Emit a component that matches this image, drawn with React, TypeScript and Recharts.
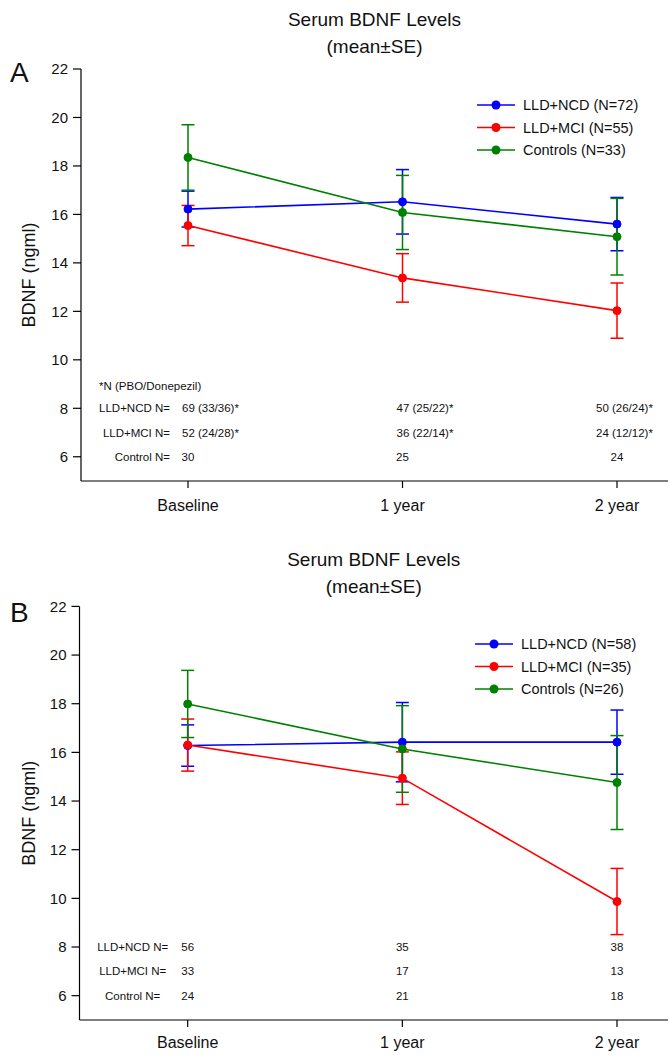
import { ComposedChart, Line, XAxis, YAxis, ErrorBar, Legend, ReferenceDot } from 'recharts';

const FONT = '"Liberation Sans", Arial, Helvetica, sans-serif';

const timepoints = ['Baseline', '1 year', '2 year'];
const yTicks = [6, 8, 10, 12, 14, 16, 18, 20, 22];

// Panel A: mean and SE
const ncdMeanA = [16.22, 16.52, 15.6];
const ncdSeA = [0.74, 1.33, 1.1];
const mciMeanA = [15.54, 13.38, 12.03];
const mciSeA = [0.83, 1.0, 1.14];
const ctlMeanA = [18.35, 16.08, 15.08];
const ctlSeA = [1.35, 1.53, 1.58];

// Panel B: mean and SE
const ncdMeanB = [16.28, 16.42, 16.42];
const ncdSeB = [0.85, 1.63, 1.32];
const mciMeanB = [16.3, 14.94, 9.87];
const mciSeB = [1.07, 1.08, 1.36];
const ctlMeanB = [17.99, 16.14, 14.76];
const ctlSeB = [1.38, 1.78, 1.93];

const legendA = ['LLD+NCD (N=72)', 'LLD+MCI (N=55)', 'Controls (N=33)'];
const legendB = ['LLD+NCD (N=58)', 'LLD+MCI (N=35)', 'Controls (N=26)'];

// N table under the lines
const rowLabels = ['LLD+NCD N=', 'LLD+MCI N=', 'Control N='];
const rowLevels = [8, 7, 6];
const footnoteA = '*N (PBO/Donepezil)';
const footnoteLevel = 8.9;
const nNcdA = ['69 (33/36)*', '47 (25/22)*', '50 (26/24)*'];
const nMciA = ['52 (24/28)*', '36 (22/14)*', '24 (12/12)*'];
const nCtlA = ['30', '25', '24'];
const nNcdB = ['56', '35', '38'];
const nMciB = ['33', '17', '13'];
const nCtlB = ['24', '21', '18'];

const colors = ['#0000ff', '#ff0000', '#008000'];
const keys = ['ncd', 'mci', 'ctl'];

const buildRows = (means: number[][], ses: number[][]) =>
  timepoints.map((t, i) => {
    const row: any = { time: t };
    keys.forEach((k, j) => {
      row[k] = means[j][i];
      row[k + 'Err'] = ses[j][i];
    });
    return row;
  });

const dataA = buildRows([ncdMeanA, mciMeanA, ctlMeanA], [ncdSeA, mciSeA, ctlSeA]);
const dataB = buildRows([ncdMeanB, mciMeanB, ctlMeanB], [ncdSeB, mciSeB, ctlSeB]);

const legendContent = (names: string[]) => () => (
  <svg width={200} height={70} style={{ overflow: 'visible' }}>
    {names.map((n, i) => {
      const y = 10 + i * 22.5;
      return (
        <g key={n}>
          <line x1={0} x2={38} y1={y} y2={y} stroke={colors[i]} strokeWidth={1.6} />
          <circle cx={19} cy={y} r={4.5} fill={colors[i]} />
          <text x={46} y={y} dominantBaseline="central" fontSize={14.5} fontFamily={FONT} fill="#111">
            {n}
          </text>
        </g>
      );
    })}
  </svg>
);

const Panel = ({ cfg }: { cfg: any }) => {
  const plotH = cfg.height - cfg.plotTop - cfg.xHeight;
  const textProps = { fontSize: 11.5, fontFamily: FONT, fill: '#111', dominantBaseline: 'central' as const };
  return (
    <div style={{ position: 'relative', width: 670, height: cfg.height }}>
      <ComposedChart
        width={670}
        height={cfg.height}
        data={cfg.data}
        margin={{ top: cfg.plotTop, right: 2, bottom: 0, left: 0 }}
      >
        <XAxis
          dataKey="time"
          scale="point"
          padding={{ left: cfg.padL, right: 51 }}
          height={cfg.xHeight}
          tickSize={7}
          tickMargin={cfg.xTickMargin}
          interval={0}
          tick={{ fontSize: 16, fill: '#111', fontFamily: FONT }}
          axisLine={{ stroke: '#000', strokeWidth: 1.2 }}
          tickLine={{ stroke: '#000', strokeWidth: 1.2 }}
        />
        <XAxis
          xAxisId="top"
          orientation="top"
          dataKey="time"
          scale="point"
          height={0}
          tick={false}
          tickLine={false}
          axisLine={{ stroke: '#000', strokeWidth: 1.2 }}
        />
        <YAxis
          type="number"
          domain={[5, 22]}
          ticks={yTicks}
          interval={0}
          allowDataOverflow
          width={cfg.plotLeft}
          tickSize={8}
          tickMargin={5}
          tick={{ fontSize: 15, fill: '#111', fontFamily: FONT }}
          axisLine={{ stroke: '#000', strokeWidth: 1.2 }}
          tickLine={{ stroke: '#000', strokeWidth: 1.2 }}
          label={{
            content: () => (
              <text
                transform={`translate(${cfg.yLabelX},${cfg.plotTop + plotH / 2}) rotate(-90)`}
                textAnchor="middle"
                dominantBaseline="central"
                fontSize={18}
                fontFamily={FONT}
                fill="#111"
              >
                BDNF (ngml)
              </text>
            ),
          }}
        />
        <YAxis
          yAxisId="right"
          orientation="right"
          type="number"
          domain={[5, 22]}
          width={0}
          tick={false}
          tickLine={false}
          axisLine={{ stroke: '#000', strokeWidth: 1.2 }}
        />
        <Legend
          layout="vertical"
          align="center"
          verticalAlign="middle"
          content={legendContent(cfg.legend)}
          wrapperStyle={{ top: cfg.legendTop, left: cfg.legendLeft, width: 200, height: 70 }}
        />
        {keys.map((k, i) => (
          <Line
            key={k}
            dataKey={k}
            name={cfg.legend[i]}
            stroke={colors[i]}
            strokeWidth={1.6}
            dot={{ r: 4, fill: colors[i], stroke: colors[i], strokeWidth: 1 }}
            activeDot={false}
            isAnimationActive={false}
          >
            <ErrorBar dataKey={k + 'Err'} direction="y" width={6.5} stroke={colors[i]} strokeWidth={1.5} />
          </Line>
        ))}
        {cfg.footnote && (
          <ReferenceDot
            x={timepoints[0]}
            y={footnoteLevel}
            r={0}
            shape={(p: any) => (
              <text x={p.cx - 89} y={p.cy} {...textProps}>
                {cfg.footnote}
              </text>
            )}
          />
        )}
        {rowLabels.map((lab, r) => (
          <ReferenceDot
            key={'lab' + r}
            x={timepoints[0]}
            y={rowLevels[r]}
            r={0}
            shape={(p: any) => (
              <text x={p.cx + cfg.labelDx} y={p.cy} textAnchor={cfg.labelAnchor} {...textProps}>
                {lab}
              </text>
            )}
          />
        ))}
        {cfg.table.map((vals: string[], r: number) =>
          vals.map((v, c) => {
            const long = v.length > 3;
            return (
              <ReferenceDot
                key={'n' + r + c}
                x={timepoints[c]}
                y={rowLevels[r]}
                r={0}
                shape={(p: any) => (
                  <text
                    x={long ? p.cx + cfg.longDx[c] : p.cx}
                    y={p.cy}
                    textAnchor={long ? 'start' : 'middle'}
                    {...textProps}
                  >
                    {v}
                  </text>
                )}
              />
            );
          })
        )}
      </ComposedChart>
      <div
        style={{
          position: 'absolute',
          left: cfg.plotLeft,
          width: 668 - cfg.plotLeft,
          top: cfg.titleTop,
          textAlign: 'center',
          fontSize: 19,
          lineHeight: '26.5px',
          color: '#111',
          fontFamily: FONT,
        }}
      >
        Serum BDNF Levels
        <br />
        (mean±SE)
      </div>
      <div
        style={{
          position: 'absolute',
          left: 10,
          top: cfg.letterTop,
          fontSize: 28,
          lineHeight: '28px',
          color: '#111',
          fontFamily: FONT,
        }}
      >
        {cfg.letter}
      </div>
    </div>
  );
};

const cfgA = {
  letter: 'A',
  data: dataA,
  legend: legendA,
  table: [nNcdA, nMciA, nCtlA],
  footnote: footnoteA,
  height: 527,
  plotTop: 69,
  plotLeft: 81,
  padL: 107,
  xHeight: 46,
  xTickMargin: 12,
  yLabelX: 29,
  legendTop: 94.5,
  legendLeft: 477,
  titleTop: 7,
  letterTop: 59,
  labelDx: -18,
  labelAnchor: 'end',
  longDx: [-6, -6, -21],
};

const cfgB = {
  letter: 'B',
  data: dataB,
  legend: legendB,
  table: [nNcdB, nMciB, nCtlB],
  footnote: null,
  height: 528,
  plotTop: 79.4,
  plotLeft: 79.5,
  padL: 108.2,
  xHeight: 35,
  xTickMargin: 10,
  yLabelX: 29,
  legendTop: 107,
  legendLeft: 475,
  titleTop: 20,
  letterTop: 72,
  labelDx: -55,
  labelAnchor: 'middle',
  longDx: [-6, -6, -21],
};

export default function App() {
  return (
    <div style={{ position: 'absolute', left: 0, top: 0, width: 670, height: 1055, background: '#fff' }}>
      <Panel cfg={cfgA} />
      <Panel cfg={cfgB} />
    </div>
  );
}
